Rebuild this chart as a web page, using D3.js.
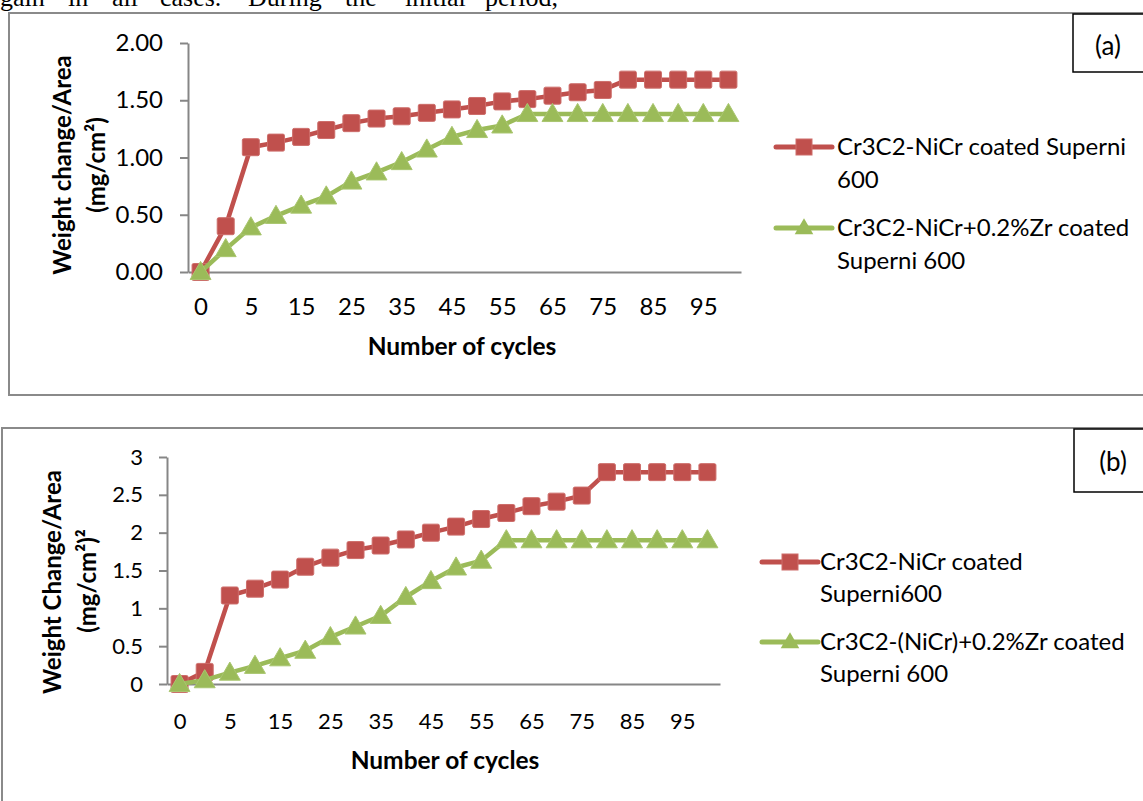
<!DOCTYPE html>
<html><head><meta charset="utf-8">
<script src="https://cdn.jsdelivr.net/npm/d3@7"></script>
<style>
html,body{margin:0;padding:0;background:#fff;overflow:hidden;}
text{font-family:Lato,"Open Sans",sans-serif;fill:#000;}
</style></head><body>
<svg id="svg" width="1143" height="801"></svg>
<script>
const categories = ["0","2","5","10","15","20","25","30","35","40","45","50","55","60","65","70","75","80","85","90","95","100"];
const tickLabels = ["0","5","15","25","35","45","55","65","75","85","95"];
const yTicksA = [0,0.5,1,1.5,2];
const yTicksB = [0,0.5,1,1.5,2,2.5,3];
const seriesA1 = [0,0.40,1.09,1.13,1.18,1.24,1.30,1.34,1.36,1.39,1.42,1.45,1.49,1.51,1.54,1.57,1.59,1.68,1.68,1.68,1.68,1.68];
const seriesA2 = [0,0.20,0.39,0.49,0.58,0.66,0.79,0.87,0.96,1.07,1.18,1.24,1.28,1.38,1.38,1.38,1.38,1.38,1.38,1.38,1.38,1.38];
const seriesB1 = [0,0.16,1.17,1.26,1.38,1.55,1.67,1.77,1.83,1.91,2.00,2.08,2.18,2.26,2.35,2.41,2.49,2.80,2.80,2.80,2.80,2.80];
const seriesB2 = [0,0.05,0.15,0.24,0.34,0.44,0.62,0.76,0.90,1.15,1.36,1.54,1.63,1.90,1.90,1.90,1.90,1.90,1.90,1.90,1.90,1.90];
const legendA = [["Cr3C2-NiCr coated Superni","600"],["Cr3C2-NiCr+0.2%Zr coated","Superni 600"]];
const legendB = [["Cr3C2-NiCr coated","Superni600"],["Cr3C2-(NiCr)+0.2%Zr coated","Superni 600"]];
const introWords = ["gain","in","all","cases.","During","the","initial","period,"];
const introX = [0,68,112,160,248,345,405,485];

const RED = "#C0504D", GREEN = "#9BBB59", AXIS = "#868686";
const svg = d3.select("#svg");

// body text at top (cut off, as in the source page)
svg.append("g").selectAll("text").data(introWords).join("text")
  .attr("x",(d,i)=>introX[i]).attr("y",6)
  .style("font-family","'Liberation Serif','Times New Roman',serif")
  .style("font-size","26px").text(d=>d);

function chart(cfg){
  const g = svg.append("g");
  g.append("rect").attr("x",cfg.frame[0]).attr("y",cfg.frame[1])
    .attr("width",cfg.frame[2]).attr("height",cfg.frame[3])
    .attr("fill","none").attr("stroke","#8a8a8a").attr("stroke-width",2);
  g.append("rect").attr("x",cfg.lbox[0]).attr("y",cfg.lbox[1])
    .attr("width",120).attr("height",cfg.lbox[2])
    .attr("fill","#fff").attr("stroke","#000").attr("stroke-width",1.5);
  g.append("text").attr("x",cfg.ltext[0]).attr("y",cfg.ltext[1]).attr("dy","0.35em")
    .attr("text-anchor","middle").style("font-size","26px").text(cfg.label);

  const x = d3.scalePoint().domain(categories).range([cfg.x0,cfg.x1]).padding(0.5);
  const y = d3.scaleLinear().domain(cfg.ydom).range([cfg.y0,cfg.y1]);

  const ya = g.append("g").attr("transform",`translate(${cfg.x0},0)`)
    .call(d3.axisLeft(y).tickValues(cfg.yticks).tickFormat(cfg.yfmt)
      .tickSize(8).tickSizeOuter(0).tickPadding(cfg.ypad));
  ya.select(".domain").attr("stroke",AXIS).attr("stroke-width",2);
  ya.selectAll(".tick line").attr("stroke",AXIS).attr("stroke-width",2);
  ya.selectAll(".tick text").style("font-size",cfg.tfs).style("font-family","Lato").attr("fill","#000");

  const xa = g.append("g").attr("transform",`translate(0,${cfg.y0})`)
    .call(d3.axisBottom(x).tickValues(categories.filter(c=>tickLabels.includes(c)))
      .tickSize(0).tickSizeOuter(0));
  xa.select(".domain").attr("stroke",AXIS).attr("stroke-width",2);
  xa.selectAll(".tick text").attr("y",cfg.xlab).attr("dy","0.35em")
    .style("font-size",cfg.tfs).style("font-family","Lato").attr("fill","#000");

  g.append("text").attr("x",cfg.xt[0]).attr("y",cfg.xt[1]).attr("dy","0.35em")
    .attr("text-anchor","middle").style("font-size","24.5px").style("font-weight","bold")
    .text("Number of cycles");
  cfg.yt.forEach(t=>{
    g.append("text").attr("transform",`translate(${t[0]},${t[1]}) rotate(-90)`)
      .attr("dy","0.35em").attr("text-anchor","middle")
      .style("font-size","24px").style("font-weight","bold").text(t[2]);
  });

  const line = d3.line().x((d,i)=>x(categories[i])).y(d=>y(d));
  const sq = 17, tri = d3.symbol().type(d3.symbolTriangle).size(190);
  function drawSeries(vals,color,shape){
    g.append("path").datum(vals).attr("d",line).attr("fill","none")
      .attr("stroke",color).attr("stroke-width",4.5).attr("stroke-linejoin","round");
    const m = g.append("g");
    if(shape==="sq"){
      m.selectAll("rect").data(vals).join("rect")
        .attr("x",(d,i)=>x(categories[i])-sq/2).attr("y",d=>y(d)-sq/2)
        .attr("width",sq).attr("height",sq).attr("rx",1.5)
        .attr("fill",color).attr("stroke","#cd6d6a").attr("stroke-width",1);
    } else {
      m.selectAll("path").data(vals).join("path")
        .attr("d",tri).attr("transform",(d,i)=>`translate(${x(categories[i])},${y(d)+1.5})`)
        .attr("fill",color).attr("stroke","#a9c66f").attr("stroke-width",1);
    }
  }
  drawSeries(cfg.s1,RED,"sq");
  drawSeries(cfg.s2,GREEN,"tri");

  const colors=[RED,GREEN], shapes=["sq","tri"];
  cfg.legend.forEach((lines,k)=>{
    const ly = cfg.leg.ys[k];
    g.append("line").attr("x1",cfg.leg.x0).attr("x2",cfg.leg.x0+56).attr("y1",ly).attr("y2",ly)
      .attr("stroke",colors[k]).attr("stroke-width",5).attr("stroke-linecap","round");
    const cx = cfg.leg.x0+28;
    if(shapes[k]==="sq"){
      g.append("rect").attr("x",cx-8).attr("y",ly-8).attr("width",16).attr("height",16)
        .attr("fill",RED).attr("stroke","#cd6d6a");
    } else {
      g.append("path").attr("d",d3.symbol().type(d3.symbolTriangle).size(150))
        .attr("transform",`translate(${cx},${ly+1})`).attr("fill",GREEN);
    }
    lines.forEach((t,j)=>{
      g.append("text").attr("x",cfg.leg.tx).attr("y",ly+j*cfg.leg.lh).attr("dy","0.35em")
        .style("font-size","24px").text(t);
    });
  });
}

chart({frame:[9,13,1160,382], lbox:[1073,14,58], ltext:[1108,46], label:"(a)",
  x0:188,x1:741,y0:272,y1:43,ydom:[0,2],yticks:yTicksA,yfmt:d3.format(".2f"),ypad:17,tfs:"24px",
  xlab:35, xt:[462,346], yt:[[63,165,"Weight change/Area"],[97,165,"(mg/cm²)"]],
  s1:seriesA1,s2:seriesA2,legend:legendA,leg:{x0:776,tx:837,ys:[147,228],lh:33}});

chart({frame:[2,428,1160,400], lbox:[1074,429,63], ltext:[1113,462], label:"(b)",
  x0:167,x1:720,y0:684,y1:457,ydom:[0,3],yticks:yTicksB,yfmt:d3.format(""),ypad:16,tfs:"22px",
  xlab:37, xt:[445,760], yt:[[53,582,"Weight Change/Area"],[88,581,"(mg/cm²)²"]],
  s1:seriesB1,s2:seriesB2,legend:legendB,leg:{x0:762,tx:820,ys:[562,642],lh:32}});
</script></body></html>
